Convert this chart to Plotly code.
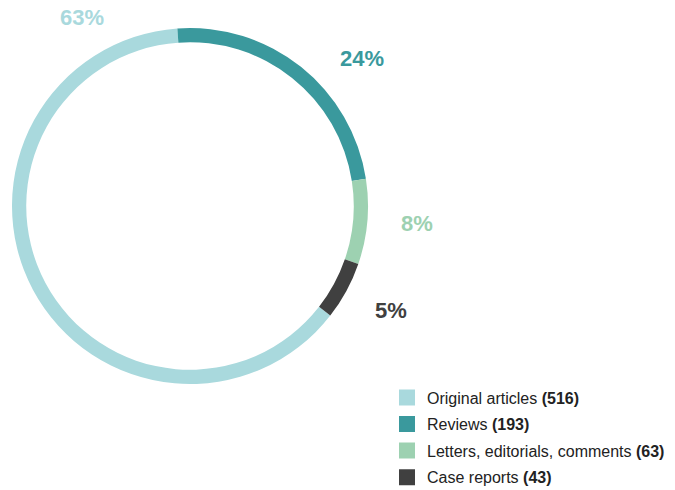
import plotly.graph_objects as go

# Publication types and counts
categories = ["Original articles", "Reviews", "Letters, editorials, comments", "Case reports"]
counts = [516, 193, 63, 43]
colors = ["#a9d9dd", "#3a999d", "#9dd1b1", "#404040"]

W, H = 675, 490
total = sum(counts)
shares = [round(100 * c / total) for c in counts]

fig = go.Figure()

fig.add_trace(go.Pie(
    labels=categories,
    values=counts,
    marker=dict(colors=colors, line=dict(width=0)),
    hole=0.92,
    sort=False,
    direction="clockwise",
    rotation=128,
    textinfo="none",
    hoverinfo="label+value+percent",
    showlegend=False,
    domain=dict(x=[12 / W, 368 / W], y=[1 - 384 / H, 1 - 28 / H]),
))

# Legend entries drawn as square markers so each category gets its own row
for name, n, col in zip(categories, counts, colors):
    fig.add_trace(go.Scatter(
        x=[None], y=[None], mode="markers",
        marker=dict(symbol="square", size=17, color=col),
        name=f"{name} <b>({n})</b>",
        legendgroup=name,
        showlegend=True,
        hoverinfo="skip",
    ))

# Percentage labels around the ring
label_pos = [(82, 17.5), (361.5, 58.5), (417.5, 223.5), (391, 310)]
for (px, py), pct, col in zip(label_pos, shares, colors):
    fig.add_annotation(
        x=px / W, y=1 - py / H, xref="paper", yref="paper",
        text=f"<b>{pct}%</b>", showarrow=False,
        font=dict(family="Liberation Sans, Arial, sans-serif", size=22, color=col),
        xanchor="center", yanchor="middle",
    )

fig.update_layout(
    width=W, height=H,
    margin=dict(l=0, r=0, t=0, b=0, autoexpand=False),
    paper_bgcolor="white",
    plot_bgcolor="white",
    xaxis=dict(visible=False),
    yaxis=dict(visible=False),
    legend=dict(
        x=387 / W, y=1 - 380.5 / H, xanchor="left", yanchor="top",
        font=dict(family="Liberation Sans, Arial, sans-serif", size=16, color="#222222"),
        traceorder="grouped",
        tracegroupgap=2.8,
        itemsizing="trace",
        itemwidth=30,
        bgcolor="rgba(0,0,0,0)",
    ),
)

fig.write_html("out.html")
